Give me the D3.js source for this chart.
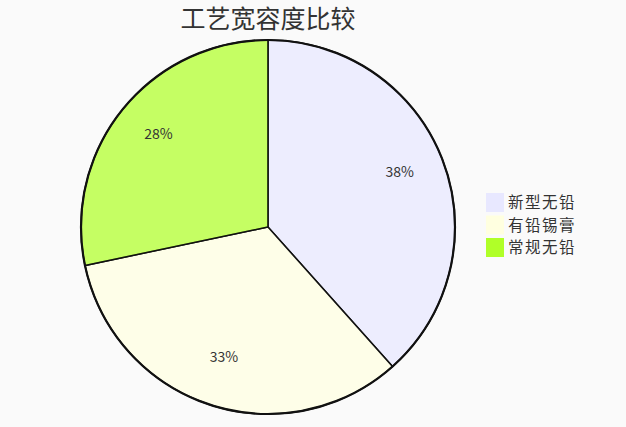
<!DOCTYPE html>
<html>
<head>
    <meta charset="utf-8">
    <script src="https://d3js.org/d3.v7.min.js" charset="utf-8"></script>
    <style>
        body { margin: 0; background: #fafafa; }
        text { font-family: "Noto Sans CJK SC", "Noto Sans", sans-serif; }
    </style>
</head>
<body>
    <div id="chart_container"></div>
    <script>
        // chart data
        const categories = ['新型无铅', '有铅锡膏', '常规无铅'];
        const values = [38.4, 33.3, 28.3];
        const colors = ['#e8e8ff', '#ffffe0', '#b0ff28'];
        const title = '工艺宽容度比较';

        var width = 626,
            height = 427;

        var cx = 268, cy = 227, radius = 187;

        const svg = d3.select('#chart_container')
            .append('svg')
            .attr('width', width)
            .attr('height', height);

        svg.append('text')
            .attr('x', cx)
            .attr('y', 28)
            .attr('text-anchor', 'middle')
            .style('font-size', '25px')
            .style('fill', '#333')
            .text(title);

        const pie = d3.pie().sort(null).value(d => d);
        const arcs = pie(values);
        const total = d3.sum(values);

        const arc = d3.arc().innerRadius(0).outerRadius(radius);
        const labelArc = d3.arc().innerRadius(141).outerRadius(141);

        const g = svg.append('g').attr('transform', `translate(${cx},${cy})`);

        g.selectAll('path.slice')
            .data(arcs)
            .enter().append('path')
            .attr('class', 'slice')
            .attr('d', arc)
            .attr('fill', (d, i) => colors[i])
            .attr('fill-opacity', 0.72)
            .attr('stroke', '#111')
            .attr('stroke-width', 1.5);

        // outer rim
        g.append('circle')
            .attr('r', radius)
            .attr('fill', 'none')
            .attr('stroke', '#111')
            .attr('stroke-width', 2.2);

        g.selectAll('text.label')
            .data(arcs)
            .enter().append('text')
            .attr('class', 'label')
            .attr('transform', d => `translate(${labelArc.centroid(d)})`)
            .attr('text-anchor', 'middle')
            .attr('dy', '0.05em')
            .style('font-size', '14px')
            .style('fill', '#333')
            .text(d => Math.round(d.data / total * 100) + '%');

        // legend
        const legend = svg.append('g').attr('transform', 'translate(486,193)');
        const rows = legend.selectAll('g')
            .data(categories)
            .enter().append('g')
            .attr('transform', (d, i) => `translate(0,${i * 22.5})`);

        rows.append('rect')
            .attr('width', 18)
            .attr('height', 19)
            .attr('fill', (d, i) => colors[i]);

        rows.append('text')
            .attr('x', 22)
            .attr('y', 10)
            .attr('dy', '0.35em')
            .style('font-size', '15.5px')
            .style('letter-spacing', '1.5px')
            .style('fill', '#333')
            .text(d => d);
    </script>
</body>
</html>
